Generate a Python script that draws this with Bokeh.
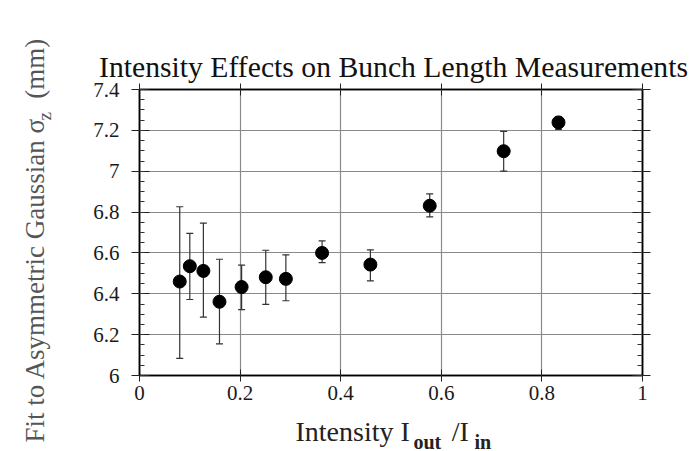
import math
from bokeh.plotting import figure
from bokeh.models import (Range1d, LinearAxis, SingleIntervalTicker, CustomJSTickFormatter,
                          Whisker, TeeHead, ColumnDataSource, Label)
from bokeh.embed import file_html
from bokeh.resources import INLINE

# ---- data ----
intensity = [0.080, 0.100, 0.127, 0.159, 0.203, 0.251, 0.291, 0.363, 0.459, 0.577, 0.724, 0.833]
sigma_z = [6.460, 6.535, 6.512, 6.361, 6.433, 6.481, 6.473, 6.600, 6.543, 6.831, 7.098, 7.239]
err_upper = [6.826, 6.696, 6.746, 6.569, 6.540, 6.613, 6.590, 6.659, 6.615, 6.889, 7.195, 7.265]
err_lower = [6.084, 6.372, 6.286, 6.155, 6.322, 6.348, 6.366, 6.553, 6.463, 6.776, 7.000, 7.205]

title_text = "Intensity Effects on Bunch Length Measurements"
SERIF = "Liberation Serif"
NB = "\u00a0"

W, H = 693, 451
FL, FR, FT, FB = 139, 642, 89, 375  # frame edges (canvas px)

p = figure(width=W, height=H, output_backend="svg", toolbar_location=None,
           x_range=Range1d(0, 1), y_range=Range1d(6, 7.4),
           min_border_left=FL, min_border_right=W - FR,
           min_border_top=FT, min_border_bottom=H - FB,
           x_axis_location=None, y_axis_location=None)
p.outline_line_color = "black"
p.outline_line_width = 1.5
p.background_fill_color = "white"
p.border_fill_color = "white"

fmt = CustomJSTickFormatter(code="return Number(tick.toFixed(2)).toString();")

def mk_y_axis(show_labels):
    ax = LinearAxis(ticker=SingleIntervalTicker(interval=0.2, num_minor_ticks=4))
    ax.axis_line_color = "black"
    ax.axis_line_width = 1.5
    ax.major_tick_line_color = "#222222"
    ax.major_tick_in = 10
    ax.major_tick_out = 8
    ax.minor_tick_line_color = "#333333"
    ax.minor_tick_in = 5
    ax.minor_tick_out = 0
    if show_labels:
        ax.formatter = fmt
        ax.major_label_text_font = SERIF
        ax.major_label_text_font_size = "21px"
        ax.major_label_text_color = "#1a1a1a"
        ax.major_label_standoff = 12
    else:
        ax.major_label_text_font_size = "0px"
        ax.major_label_text_color = None
        ax.major_label_standoff = 0
    return ax

def mk_x_axis(show_labels):
    ax = LinearAxis(ticker=SingleIntervalTicker(interval=0.2, num_minor_ticks=0))
    ax.axis_line_color = "black"
    ax.axis_line_width = 1.5
    ax.major_tick_line_color = "#222222"
    ax.major_tick_in = 6
    ax.major_tick_out = 6
    ax.minor_tick_line_color = None
    if show_labels:
        ax.formatter = fmt
        ax.major_label_text_font = SERIF
        ax.major_label_text_font_size = "21px"
        ax.major_label_text_color = "#1a1a1a"
        ax.major_label_standoff = 4
    else:
        ax.major_label_text_font_size = "0px"
        ax.major_label_text_color = None
        ax.major_label_standoff = 0
    return ax

p.add_layout(mk_y_axis(True), "left")
p.add_layout(mk_y_axis(False), "right")
p.add_layout(mk_x_axis(True), "below")
p.add_layout(mk_x_axis(False), "above")

p.xgrid.ticker = SingleIntervalTicker(interval=0.2)
p.ygrid.ticker = SingleIntervalTicker(interval=0.2)
p.xgrid.grid_line_color = "#8a8a8a"
p.ygrid.grid_line_color = "#8a8a8a"
p.xgrid.grid_line_width = 1.2
p.ygrid.grid_line_width = 1.2

src = ColumnDataSource(dict(x=intensity, y=sigma_z, upper=err_upper, lower=err_lower))
wh = Whisker(source=src, base="x", upper="upper", lower="lower",
             line_color="#333333", line_width=1.2,
             upper_head=TeeHead(size=7, line_color="#333333", line_width=1.2),
             lower_head=TeeHead(size=7, line_color="#333333", line_width=1.2))
p.add_layout(wh)
p.scatter("x", "y", source=src, size=13, color="black")

# ---- texts: labels in side panels are placed relative to their own panel box ----
# (box_left, box_bottom) of each text's panel box, in canvas pixels (calibrated)
def add_text(txt, cx, cy, size, side, box_left, box_bottom, color="#222222",
             style="normal", align="left", angle=0.0):
    lab = Label(x=cx - box_left, y=box_bottom - cy, x_units="screen", y_units="screen",
                text=txt, text_font=SERIF, text_font_size=size, text_color=color,
                text_font_style=style, text_align=align, text_baseline="alphabetic",
                angle=angle)
    p.add_layout(lab, side)

ang = math.pi / 2
# above panel: title, then z subscript
add_text(title_text, 393, 75, "29.7px", "above", FL, 92, color="#111111", align="center")
add_text("z", 44, 114, "19px", "above", FL, 45, color="#555555", angle=ang)
# below panel: main x label (gap left for the "out" subscript)
add_text("Intensity I" + NB * 6 + "/I", 295, 437, "28px", "below", FL, 439)
# left panel: y label, "out", "in"
add_text("Fit to Asymmetric Gaussian \u03c3" + NB * 3 + "(mm)", 36, 442, "27px", "left",
         62, FB, color="#555555", angle=ang)
add_text("out", 418, 441, "20px", "left", 37, FB, style="bold")
add_text("in", 471, 441, "20px", "left", 12, FB, style="bold")

open("out.html", "w").write(file_html(p, INLINE))
